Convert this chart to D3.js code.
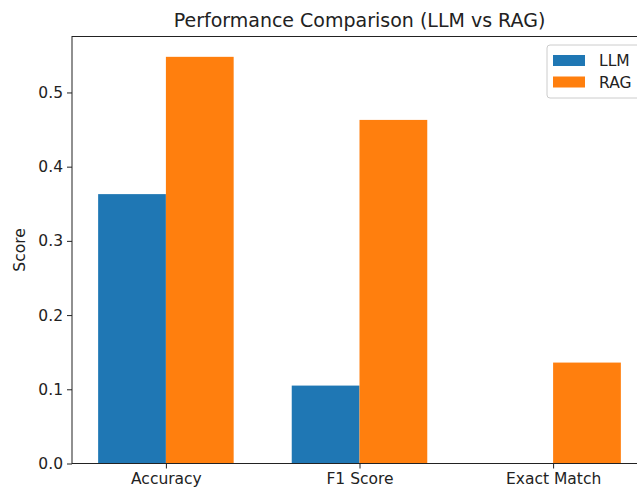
<!DOCTYPE html>
<html>
<head>
<meta charset="utf-8">
<script src="https://cdn.jsdelivr.net/npm/d3@7"></script>
<style>
  body { margin: 0; background: #fff; }
  svg { display: block; font-family: "DejaVu Sans", sans-serif; }
</style>
</head>
<body>
<div id="chart"></div>
<script>
// data
var categories = ['Accuracy', 'F1 Score', 'Exact Match']
var seriesNames = ['LLM', 'RAG']
var llmScores = [0.363, 0.105, 0]
var ragScores = [0.548, 0.463, 0.136]
var yTicks = [0.0, 0.1, 0.2, 0.3, 0.4, 0.5]

var colors = { LLM: '#1f77b4', RAG: '#ff7f0e' }
var w = 637
var h = 494
var barWidth = 0.35
var tickFont = '15.5px'

// axes box (right side runs past the picture edge, like the reference)
var boxLeft = 72, boxRight = 647, boxTop = 36.5, boxBottom = 463.5

var svg = d3.select('#chart')
  .append('svg')
  .attr('width', w)
  .attr('height', h)

var x = d3.scaleLinear()
  .domain([-0.485, 2.485])
  .range([boxLeft, boxRight])

var yMax = d3.max(ragScores.concat(llmScores)) * 1.05
var y = d3.scaleLinear()
  .domain([0, yMax])
  .range([boxBottom, boxTop])

var rows = categories.map((c, i) => ({ cat: c, i: i, LLM: llmScores[i], RAG: ragScores[i] }))

// bars
seriesNames.forEach((s, k) => {
  var offset = k === 0 ? -barWidth : 0
  svg.append('g')
    .selectAll('rect')
    .data(rows)
    .enter()
    .append('rect')
    .attr('x', d => x(d.i + offset))
    .attr('width', d => x(d.i + offset + barWidth) - x(d.i + offset))
    .attr('y', d => y(d[s]))
    .attr('height', d => y(0) - y(d[s]))
    .style('fill', colors[s])
})

// y axis
var yAxis = svg.append('g')
  .attr('transform', `translate(${boxLeft},0)`)
  .call(d3.axisLeft(y).tickValues(yTicks).tickFormat(d3.format('.1f')).tickSize(5).tickPadding(4))
yAxis.select('.domain').remove()
yAxis.selectAll('text').style('font-size', tickFont).style('fill', '#222').style('font-family', '"DejaVu Sans", sans-serif')
yAxis.selectAll('line').style('stroke', '#222')

// x axis
var xAxis = svg.append('g')
  .attr('transform', `translate(0,${boxBottom})`)
  .call(d3.axisBottom(x).tickValues([0, 1, 2]).tickFormat(d => categories[d]).tickSize(5).tickPadding(4))
xAxis.select('.domain').remove()
xAxis.selectAll('text').style('font-size', tickFont).style('fill', '#222').style('font-family', '"DejaVu Sans", sans-serif')
xAxis.selectAll('line').style('stroke', '#222')

// spines
svg.append('rect')
  .attr('x', boxLeft)
  .attr('y', boxTop)
  .attr('width', boxRight - boxLeft)
  .attr('height', boxBottom - boxTop)
  .style('fill', 'none')
  .style('stroke', '#222')
  .style('stroke-width', 1)

// title
svg.append('text')
  .attr('x', (boxLeft + boxRight) / 2)
  .attr('y', 27)
  .attr('text-anchor', 'middle')
  .style('font-size', '19px')
  .style('fill', '#222')
  .text('Performance Comparison (LLM vs RAG)')

// y label
svg.append('text')
  .attr('transform', `translate(25,${(boxTop + boxBottom) / 2}) rotate(-90)`)
  .attr('text-anchor', 'middle')
  .style('font-size', tickFont)
  .style('fill', '#222')
  .text('Score')

// legend
var legend = svg.append('g')
  .attr('transform', 'translate(547,45)')
legend.append('rect')
  .attr('width', 100)
  .attr('height', 53)
  .attr('rx', 3)
  .style('fill', '#fff')
  .style('fill-opacity', 0.8)
  .style('stroke', '#ccc')
seriesNames.forEach((s, k) => {
  legend.append('rect')
    .attr('x', 6)
    .attr('y', 10 + k * 21.5)
    .attr('width', 32)
    .attr('height', 11)
    .style('fill', colors[s])
  legend.append('text')
    .attr('x', 52)
    .attr('y', 21 + k * 21.5)
    .style('font-size', tickFont)
    .style('fill', '#222')
    .text(s)
})
</script>
</body>
</html>
